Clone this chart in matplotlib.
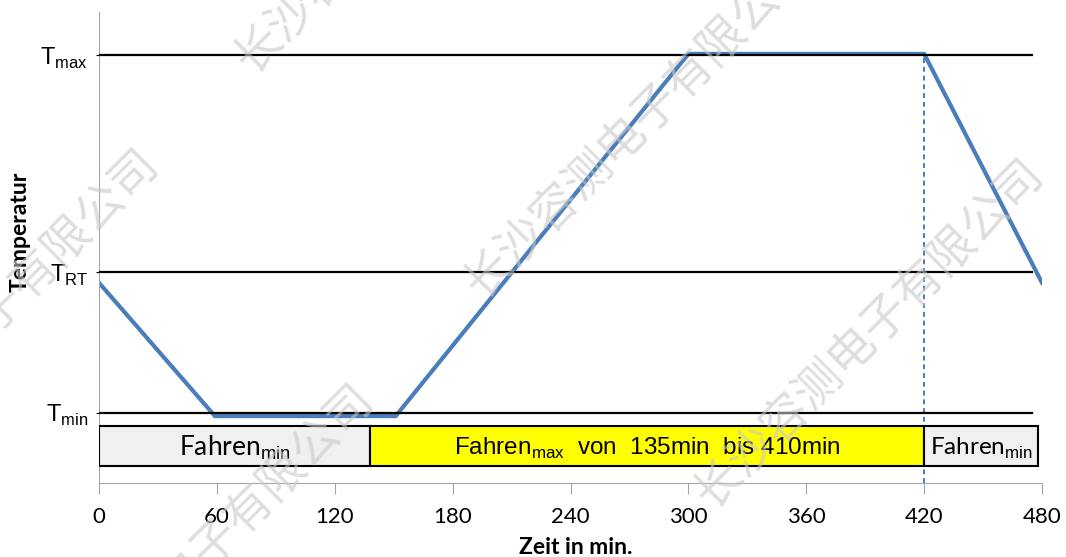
import matplotlib.pyplot as plt

plt.rcParams['mathtext.fontset'] = 'custom'
plt.rcParams['mathtext.rm'] = 'Liberation Sans'

# Temperaturverlauf
zeit = [0, 59, 151, 300, 420, 480]
temperatur = [42.5, 14.2, 14.2, 91.1, 91.1, 42.5]

# Temperaturstufen (y-Achse)
stufen_namen = ['T$_{\\mathrm{min}}$', 'T$_{\\mathrm{RT}}$', 'T$_{\\mathrm{max}}$']
stufen_werte = [14.9, 44.8, 90.9]

# Fahrphasen
phasen_start = [0, 138, 420]
phasen_ende = [138, 420, 478]
phasen_text = ['Fahren$_{\\mathrm{min}}$',
               'Fahren$_{\\mathrm{max}}$  von  135min  bis 410min',
               'Fahren$_{\\mathrm{min}}$']
phasen_farbe = ['#f0f0f0', '#ffff00', '#f0f0f0']

x_ticks = [0, 60, 120, 180, 240, 300, 360, 420, 480]

fig = plt.figure(figsize=(10.66, 5.57), dpi=100)
ax = fig.add_axes([0.0929, 0.1329, 0.8846, 0.8456])

for w in stufen_werte:
    ax.plot([0, 475], [w, w], color='black', lw=1.6, zorder=3)

ax.plot([420, 420], [0, temperatur[4]], color='#4a7ebb', lw=1.4,
        ls=(0, (2.5, 2)), zorder=2)
ax.plot(zeit, temperatur, color='#4a7ebb', lw=3, zorder=2.5,
        solid_joinstyle='miter')

breiten = [e - s for s, e in zip(phasen_start, phasen_ende)]
ax.barh(7.8, breiten, left=phasen_start, height=8.6, color=phasen_farbe,
        edgecolor='black', lw=1.5, zorder=4)
groessen = [19, 17.5, 17.5]
for s, e, t, g in zip(phasen_start, phasen_ende, phasen_text, groessen):
    fam = 'Liberation Sans' if 'max' in t else 'Lato'
    ax.text((s + e) / 2, 7.4, t, ha='center', va='center', fontsize=g,
            family=fam, zorder=5)

ax.set_xlim(0, 480)
ax.set_ylim(0, 100)
ax.set_xticks(x_ticks)
ax.set_xticklabels([str(x) for x in x_ticks], family='Lato', fontsize=16)
ax.set_yticks(stufen_werte)
ax.set_yticklabels(stufen_namen, family='Liberation Sans', fontsize=17)
ax.tick_params(axis='x', direction='out', length=8, color='#a6a6a6', pad=9)
ax.tick_params(axis='y', direction='out', length=2, color='black', pad=6)

for s in ['top', 'right']:
    ax.spines[s].set_visible(False)
ax.spines['left'].set_color('#a6a6a6')
ax.spines['bottom'].set_color('#a6a6a6')

ax.set_xlabel('Zeit in min.', family='Lato', fontweight='bold', fontsize=16.5)
ax.xaxis.set_label_coords(0.506, -0.136)
ax.xaxis.label.set_va('center')
ax.set_ylabel('Temperatur', family='Lato', fontweight='bold', fontsize=16.5)
ax.yaxis.set_label_coords(-0.0838, 0.533)
ax.yaxis.label.set_va('center')

# Wasserzeichen
wz = '长沙容测电子有限公司'
for px, py in [(-15, 325), (410, -100), (640, 125), (200, 560), (870, 335)]:
    fig.text(px / 1066, 1 - py / 557, wz, rotation=45, ha='center',
             va='center', fontsize=34, family='Noto Sans CJK SC',
             color='#c8c8c8', alpha=0.6, zorder=10)

fig.savefig('out.png', dpi=100)
